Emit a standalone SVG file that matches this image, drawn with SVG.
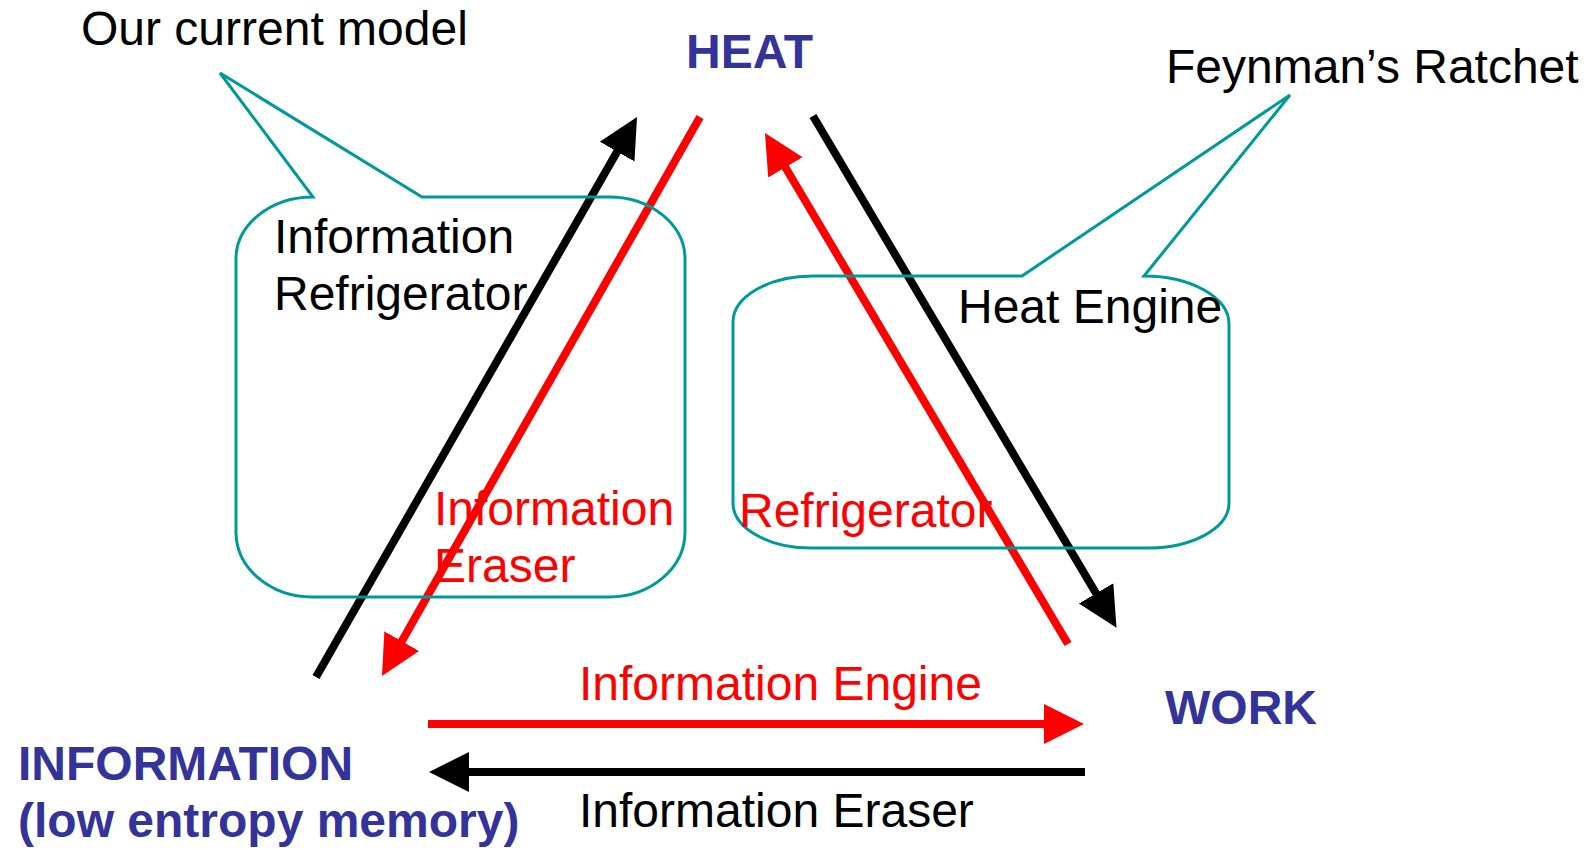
<svg xmlns="http://www.w3.org/2000/svg" width="1590" height="850" viewBox="0 0 1590 850">
  <style>
    text { font-family: "Liberation Sans", Arial, sans-serif; font-size: 48px; }
    .node { font-weight: bold; fill: #333399; }
    .lbl { fill: #000000; }
    .lbl-red { fill: #FF0000; }
    .callout { fill: none; stroke: #009999; stroke-width: 3; stroke-linejoin: miter; }
    .arr-k { stroke: #000000; stroke-width: 8; fill: none; }
    .arr-r { stroke: #FF0000; stroke-width: 8; fill: none; }
  </style>
  <defs>
    <marker id="head-k" markerUnits="userSpaceOnUse" markerWidth="42" markerHeight="42" viewBox="0 -21 42 42" refX="10" refY="0" orient="auto">
      <path d="M0,-20 L40,0 L0,20 z" fill="#000000"/>
    </marker>
    <marker id="head-r" markerUnits="userSpaceOnUse" markerWidth="42" markerHeight="42" viewBox="0 -21 42 42" refX="10" refY="0" orient="auto">
      <path d="M0,-20 L40,0 L0,20 z" fill="#FF0000"/>
    </marker>
  </defs>

  <rect x="0" y="0" width="1590" height="850" fill="#FFFFFF"/>

  <!-- connectors between HEAT, WORK and INFORMATION -->
  <g id="connectors">
    <!-- INFORMATION -> HEAT (information refrigerator) -->
    <line class="arr-k" x1="316" y1="677" x2="622.1" y2="143.0" marker-end="url(#head-k)"/>
    <!-- HEAT -> INFORMATION (information eraser) -->
    <line class="arr-r" x1="700" y1="117" x2="396.8" y2="649.9" marker-end="url(#head-r)"/>
    <!-- WORK -> HEAT (refrigerator) -->
    <line class="arr-r" x1="1068" y1="644" x2="780.3" y2="158.8" marker-end="url(#head-r)"/>
    <!-- HEAT -> WORK (heat engine) -->
    <line class="arr-k" x1="813" y1="116" x2="1101.2" y2="602.0" marker-end="url(#head-k)"/>
    <!-- INFORMATION -> WORK (information engine) -->
    <line class="arr-r" x1="428" y1="724" x2="1054" y2="724" marker-end="url(#head-r)"/>
    <!-- WORK -> INFORMATION (information eraser) -->
    <line class="arr-k" x1="1085" y1="772" x2="459" y2="772" marker-end="url(#head-k)"/>
  </g>

  <!-- callout: our current model -->
  <g id="callout-model">
    <path class="callout" d="M220,73 L422,197 L609,197 A76,62 0 0 1 685,259 L685,532 A76,65 0 0 1 609,597 L312,597 A76,65 0 0 1 236,532 L236,259 A77,62 0 0 1 313,197 Z"/>
    <text class="lbl" x="81" y="45">Our current model</text>
  </g>

  <!-- callout: Feynman's ratchet -->
  <g id="callout-ratchet">
    <path class="callout" d="M1290,95 L1022,276 L813,276 A80,46 0 0 0 733,322 L733,503 A78,45 0 0 0 811,548 L1148,548 A81,45 0 0 0 1229,503 L1229,324 A85,48 0 0 0 1144,276 Z"/>
    <text class="lbl" x="1166" y="83">Feynman’s Ratchet</text>
  </g>

  <!-- process labels -->
  <g id="labels">
    <text class="lbl" x="274" y="253">Information</text>
    <text class="lbl" x="274" y="310">Refrigerator</text>
    <text class="lbl" x="958" y="323">Heat Engine</text>
    <text class="lbl-red" x="434" y="525">Information</text>
    <text class="lbl-red" x="434" y="582">Eraser</text>
    <text class="lbl-red" x="739" y="527">Refrigerator</text>
    <text class="lbl-red" x="579" y="700">Information Engine</text>
    <text class="lbl" x="579" y="827">Information Eraser</text>
  </g>

  <!-- reservoirs -->
  <g id="node-heat">
    <text class="node" x="686" y="68">HEAT</text>
  </g>
  <g id="node-work">
    <text class="node" x="1165" y="724">WORK</text>
  </g>
  <g id="node-information">
    <text class="node" x="18" y="780">INFORMATION</text>
    <text class="node" x="18" y="837">(low entropy memory)</text>
  </g>
</svg>
